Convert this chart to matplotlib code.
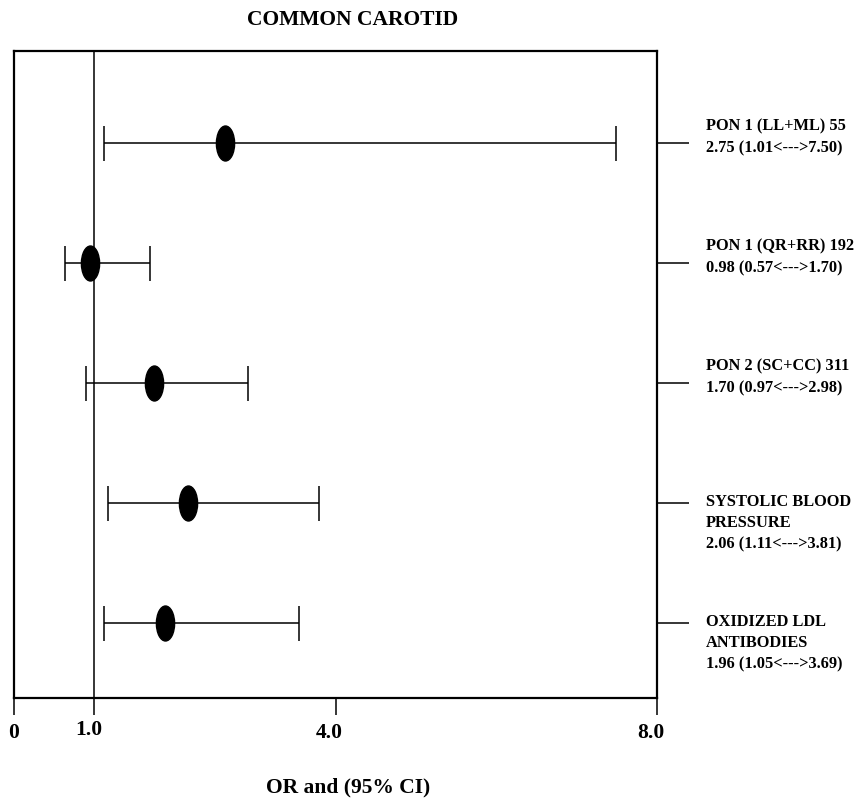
import matplotlib
matplotlib.use("Agg")
from matplotlib import pyplot as plt
from matplotlib.path import Path
from matplotlib.transforms import Affine2D, ScaledTranslation

plt.rcParams["font.family"] = ["Liberation Serif", "DejaVu Serif"]
plt.rcParams["font.weight"] = "bold"

# rows top to bottom
labels = [
    "PON 1 (LL+ML) 55\n2.75 (1.01<--->7.50)",
    "PON 1 (QR+RR) 192\n0.98 (0.57<--->1.70)",
    "PON 2 (SC+CC) 311\n1.70 (0.97<--->2.98)",
    "SYSTOLIC BLOOD\nPRESSURE\n2.06 (1.11<--->3.81)",
    "OXIDIZED LDL\nANTIBODIES\n1.96 (1.05<--->3.69)",
]
# positions as drawn in the figure
or_vals = [2.63, 0.95, 1.74, 2.16, 1.88]
ci_low = [1.12, 0.64, 0.89, 1.17, 1.12]
ci_high = [7.49, 1.69, 2.91, 3.79, 3.55]

x_ticks = [0, 1, 4, 8]
x_ticklabels = ["0", "1.0", "4.0", "8.0"]

rows = list(range(len(labels)))

fig = plt.figure(figsize=(8.58, 7.99), dpi=100)
ax = fig.add_axes([14 / 858, 1 - 698 / 799, 643 / 858, 647 / 799])

ax.axvline(1.0, color="black", lw=1.1, zorder=1)

xerr = [
    [o - l for o, l in zip(or_vals, ci_low)],
    [h - o for o, h in zip(or_vals, ci_high)],
]
ax.errorbar(
    or_vals, rows, xerr=xerr, fmt="none", ecolor="black",
    elinewidth=1.1, capsize=12.6, capthick=1.1, zorder=2,
)
ellipse = Path.unit_circle().transformed(Affine2D().scale(0.52, 1.0))
ax.plot(or_vals, rows, linestyle="none", marker=ellipse, markersize=25.2,
        color="black", zorder=3)

ax.set_xlim(0, 8)
ax.set_ylim(4.623, -0.768)

for s in ax.spines.values():
    s.set_linewidth(1.6)

ax.set_xticks(x_ticks)
ax.set_xticklabels(x_ticklabels, fontsize=15.5, fontweight="bold")
ax.tick_params(axis="x", direction="out", length=12, width=1.1, pad=6)
for lab, txt in zip(ax.get_xticklabels(), x_ticklabels):
    if txt != "0":
        dy = 3 / 100 if txt == "1.0" else 0
        lab.set_transform(lab.get_transform()
                          + ScaledTranslation(-6 / 100, dy, fig.dpi_scale_trans))

ax.yaxis.tick_right()
ax.set_yticks(rows)
ax.set_yticklabels([])
ax.tick_params(axis="y", direction="out", length=23, width=1.1)

for i, txt in zip(rows, labels):
    n_lines = txt.count("\n") + 1
    dy = 4.3 if n_lines == 2 else -14.4
    ax.annotate(txt, xy=(1, i), xycoords=("axes fraction", "data"),
                xytext=(35.3, dy), textcoords="offset points",
                ha="left", va="center", fontsize=11.8, fontweight="bold",
                linespacing=1.45, annotation_clip=False)

fig.text(353 / 858, 1 - 20 / 799, "COMMON CAROTID", ha="center", va="center",
         fontsize=15.5, fontweight="bold")
fig.text(348 / 858, 1 - 787 / 799, "OR and (95% CI)", ha="center", va="center",
         fontsize=15.5, fontweight="bold")

fig.savefig("out.png", dpi=100)
plt.close(fig)
